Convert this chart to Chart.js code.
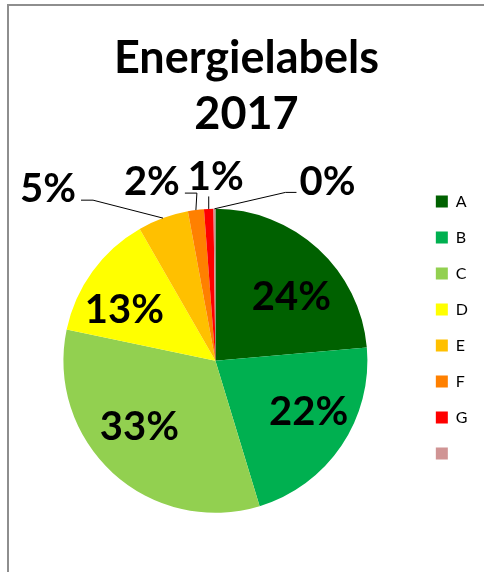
<!DOCTYPE html>
<html>
<head>
<meta charset="utf-8">
<script src="https://cdn.jsdelivr.net/npm/chart.js@4"></script>
<style>
  html, body { margin: 0; padding: 0; background: #fff; }
  #wrap { position: relative; width: 484px; height: 573px; }
  #frame { position: absolute; left: 7px; top: 4px; width: 480px; height: 566px;
           border-left: 2px solid #8e8e8e; border-top: 2px solid #8e8e8e; }
  #chart { position: absolute; left: 0; top: 0; }
</style>
</head>
<body>
<div id="wrap">
  <div id="frame"></div>
  <canvas id="chart" width="484" height="573"></canvas>
</div>
<script>
var labels = ["A", "B", "C", "D", "E", "F", "G", ""];
var values = [23.6, 21.7, 33.0, 13.4, 5.4, 1.7, 1.0, 0.2];
var colors = ["#006100", "#00B050", "#92D050", "#FFFF00", "#FFC000", "#FF8000", "#FF0000", "#D09494"];

// percent labels: inside at a fraction of the radius, the small ones outside with a leader line
var pieLabels = {
  id: "pieLabels",
  afterDatasetsDraw: function(chart, args, opts) {
    var ctx = chart.ctx;
    var meta = chart.getDatasetMeta(0);
    var data = chart.data.datasets[0].data;
    var total = data.reduce(function(a, b) { return a + b; }, 0);
    ctx.save();
    ctx.font = "bold " + opts.size + "px Lato";
    ctx.fillStyle = "#000";
    ctx.strokeStyle = "#000";
    ctx.lineWidth = 1;
    ctx.textAlign = "center";
    ctx.textBaseline = "alphabetic";
    meta.data.forEach(function(arc, i) {
      var p = arc.getProps(["x", "y", "startAngle", "endAngle", "outerRadius"], true);
      var mid = (p.startAngle + p.endAngle) / 2;
      var text = Math.round(data[i] / total * 100) + "%";
      var m = ctx.measureText(text);
      var w = m.width, h = m.actualBoundingBoxAscent;
      var off = opts.outside[i];
      var lx, ly;
      if (!off) {
        // excel pulls the inside labels a bit towards the horizontal
        lx = p.x + Math.cos(mid) * p.outerRadius * opts.inside[0];
        ly = p.y + Math.sin(mid) * p.outerRadius * opts.inside[1];
      } else {
        var ex = p.x + Math.cos(mid) * p.outerRadius;
        var ey = p.y + Math.sin(mid) * p.outerRadius;
        lx = ex + off[0];
        ly = ey + off[1];
        ctx.beginPath();
        ctx.moveTo(ex, ey);
        if (Math.abs(lx - ex) < w / 2) {
          ctx.lineTo(ex, ly + h / 2 + 6);
        } else if (lx < ex) {
          ctx.lineTo(lx + w / 2 + 17, ly + h * 0.45);
          ctx.lineTo(lx + w / 2 + 5, ly + h * 0.45);
        } else {
          ctx.lineTo(lx - w / 2 - 14, ly + h * 0.4);
          ctx.lineTo(lx - w / 2 - 3, ly + h * 0.4);
        }
        ctx.stroke();
      }
      ctx.fillText(text, lx, ly + h / 2);
    });
    ctx.restore();
  }
};

new Chart(document.getElementById("chart"), {
  type: "pie",
  data: {
    labels: labels,
    datasets: [{
      data: values,
      backgroundColor: colors,
      borderWidth: 0
    }]
  },
  options: {
    responsive: false,
    animation: false,
    radius: 152,
    layout: { padding: { left: 15, right: 6, top: 0, bottom: 25 } },
    plugins: {
      title: {
        display: true,
        text: ["Energielabels", "2017"],
        color: "#000",
        font: { family: "Lato", size: 45, weight: "bold", lineHeight: 1.24 },
        padding: { top: 31, bottom: 31 }
      },
      legend: {
        position: "right",
        align: "start",
        fullSize: false,
        labels: {
          color: "#000",
          font: { family: "Lato", size: 16 },
          boxWidth: 12,
          boxHeight: 12,
          padding: 20
        }
      },
      tooltip: { enabled: false },
      pieLabels: {
        size: 40,
        inside: [0.74, 0.58],
        outside: [null, null, null, null, [-115, -31], [-44, -30], [7, -33], [113, -28]]
      }
    }
  },
  plugins: [pieLabels]
});
</script>
</body>
</html>
